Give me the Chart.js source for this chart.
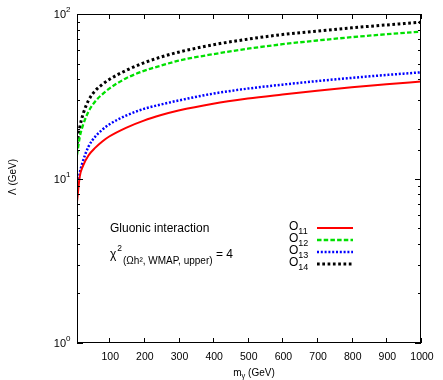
<!DOCTYPE html>
<html>
<head>
<meta charset="utf-8">
<script src="https://cdn.jsdelivr.net/npm/chart.js@4.4.1/dist/chart.umd.min.js"></script>
<style>
  html, body { margin: 0; padding: 0; background: #fff; }
  #chart { display: block; }
</style>
</head>
<body>
<canvas id="chart" width="443" height="380"></canvas>
<script>
// valeurs
const massValues = [7, 15, 25, 40, 60, 80, 100, 150, 200, 250, 300, 400, 500, 600, 700, 800, 900, 1000];
const lambdaO11 = [7.2, 10.3, 12.0, 13.8, 15.4, 16.8, 18.0, 20.4, 22.5, 24.3, 25.9, 28.5, 30.6, 32.4, 34.2, 35.9, 37.4, 38.9];
const lambdaO12 = [13.9, 17.9, 21.3, 25.5, 29.5, 32.5, 35.2, 40.8, 45.1, 48.6, 52.0, 57.0, 61.5, 65.5, 69.0, 72.3, 75.3, 78.1];
const lambdaO13 = [8.4, 10.8, 12.9, 15.6, 18.0, 19.8, 21.3, 24.2, 26.5, 28.2, 29.8, 32.8, 35.2, 37.2, 39.1, 40.9, 42.6, 44.2];
const lambdaO14 = [16.2, 20.5, 24.8, 29.8, 34.2, 37.3, 40.0, 45.5, 50.5, 54.8, 58.6, 65.0, 70.3, 75.0, 78.7, 82.4, 85.8, 89.1];
const operatorIndices = ['11', '12', '13', '14'];
const xTickValues = [100, 200, 300, 400, 500, 600, 700, 800, 900, 1000];

const FONT = '"Liberation Sans", Arial, sans-serif';

function toPoints(values) {
    return massValues.map((m, i) => ({ x: m, y: values[i] }));
}

function text(ctx, str, x, y, size, align, baseline) {
    ctx.font = size + 'px ' + FONT;
    ctx.textAlign = align || 'left';
    ctx.textBaseline = baseline || 'alphabetic';
    ctx.fillText(str, x, y);
    return ctx.measureText(str).width;
}

// cadre, graduations, étiquettes et légende façon gnuplot
const gnuplotFrame = {
    id: 'gnuplotFrame',
    afterDatasetsDraw(chart) {
        const ctx = chart.ctx;
        const a = chart.chartArea;
        const xs = chart.scales.x;
        const ys = chart.scales.y;
        ctx.save();
        ctx.fillStyle = '#000';
        ctx.strokeStyle = '#000';
        ctx.lineWidth = 1;

        ctx.strokeRect(a.left + 0.5, a.top + 0.5, a.right - a.left - 1, a.bottom - a.top - 1);

        // graduations x
        ctx.beginPath();
        xTickValues.forEach(v => {
            const px = Math.round(xs.getPixelForValue(v)) + 0.5;
            ctx.moveTo(px, a.bottom);
            ctx.lineTo(px, a.bottom - 5);
            ctx.moveTo(px, a.top);
            ctx.lineTo(px, a.top + 5);
        });
        // graduations y (log)
        ys.ticks.forEach(t => {
            const v = t.value;
            const major = Math.abs(Math.log10(v) - Math.round(Math.log10(v))) < 1e-6;
            const len = major ? 6 : 3;
            const py = Math.round(ys.getPixelForValue(v)) + 0.5;
            ctx.moveTo(a.left, py);
            ctx.lineTo(a.left + len, py);
            ctx.moveTo(a.right, py);
            ctx.lineTo(a.right - len, py);
        });
        ctx.stroke();

        // étiquettes x
        xTickValues.forEach(v => {
            text(ctx, String(v), xs.getPixelForValue(v) + 1, a.bottom + 14, 10.5, 'center', 'middle');
        });
        // étiquettes y : 10^n
        ys.ticks.forEach(t => {
            const e = Math.log10(t.value);
            if (Math.abs(e - Math.round(e)) > 1e-6) return;
            const py = ys.getPixelForValue(t.value);
            text(ctx, '10', a.left - 11, py + 1, 11, 'right', 'middle');
            text(ctx, String(Math.round(e)), a.left - 11, py - 2, 8, 'left', 'alphabetic');
        });

        // titres des axes
        const cx = (a.left + a.right) / 2 + 5;
        ctx.font = '10px ' + FONT;
        const wM = ctx.measureText('m').width;
        const wG = ctx.measureText(' (GeV)').width;
        ctx.font = '7.5px ' + FONT;
        const wGam = ctx.measureText('γ').width;
        let tx = cx - (wM + wGam + wG) / 2;
        const ty = 376;
        tx += text(ctx, 'm', tx, ty, 10, 'left', 'alphabetic');
        tx += text(ctx, 'γ', tx, ty + 2, 7.5, 'left', 'alphabetic');
        text(ctx, ' (GeV)', tx, ty, 10, 'left', 'alphabetic');

        ctx.save();
        ctx.translate(13, 177);
        ctx.rotate(-Math.PI / 2);
        text(ctx, 'Λ (GeV)', 0, 0, 10, 'center', 'middle');
        ctx.restore();

        // annotations
        text(ctx, 'Gluonic interaction', 110, 232, 12, 'left', 'alphabetic');
        let ax = 110;
        ax += text(ctx, 'χ', ax, 258, 12, 'left', 'alphabetic');
        ax += 1;
        ax += text(ctx, '2', ax, 251, 8.5, 'left', 'alphabetic');
        ax += 1;
        ax += text(ctx, '(Ωh², WMAP, upper)', ax, 264, 10, 'left', 'alphabetic');
        text(ctx, ' = 4', ax, 258, 12, 'left', 'alphabetic');

        // légende
        chart.data.datasets.forEach((ds, i) => {
            const ly = 228 + i * 12;
            let lx = 289;
            lx += text(ctx, 'O', lx, ly + 2, 12, 'left', 'alphabetic');
            text(ctx, operatorIndices[i], lx, ly + 6, 9, 'left', 'alphabetic');
            ctx.beginPath();
            ctx.strokeStyle = ds.borderColor;
            ctx.lineWidth = ds.borderWidth;
            ctx.setLineDash(ds.borderDash || []);
            ctx.moveTo(317, ly);
            ctx.lineTo(353, ly);
            ctx.stroke();
            ctx.setLineDash([]);
        });

        ctx.restore();
    }
};

new Chart(document.getElementById('chart'), {
    type: 'line',
    data: {
        datasets: [
            { label: 'O11', data: toPoints(lambdaO11), borderColor: '#ff0000', borderWidth: 2 },
            { label: 'O12', data: toPoints(lambdaO12), borderColor: '#00e000', borderWidth: 2.3, borderDash: [4.5, 2.2] },
            { label: 'O13', data: toPoints(lambdaO13), borderColor: '#0000ff', borderWidth: 2.5, borderDash: [2, 1.8] },
            { label: 'O14', data: toPoints(lambdaO14), borderColor: '#000000', borderWidth: 3, borderDash: [2.7, 2.6] }
        ]
    },
    options: {
        responsive: false,
        animation: false,
        devicePixelRatio: 1,
        layout: { padding: { top: 14, right: 22, left: 0, bottom: 0 } },
        elements: {
            point: { radius: 0 },
            line: { cubicInterpolationMode: 'monotone', borderCapStyle: 'butt', fill: false }
        },
        scales: {
            x: {
                type: 'linear',
                min: 7,
                max: 1000,
                grid: { display: false },
                border: { display: false },
                ticks: { display: false },
                afterBuildTicks: s => { s.ticks = xTickValues.map(v => ({ value: v })); },
                afterFit: s => { s.height = 37; }
            },
            y: {
                type: 'logarithmic',
                min: 1,
                max: 100,
                grid: { display: false },
                border: { display: false },
                ticks: { display: false },
                afterFit: s => { s.width = 77; }
            }
        },
        plugins: {
            legend: { display: false },
            tooltip: { enabled: false }
        }
    },
    plugins: [gnuplotFrame]
});
</script>
</body>
</html>
